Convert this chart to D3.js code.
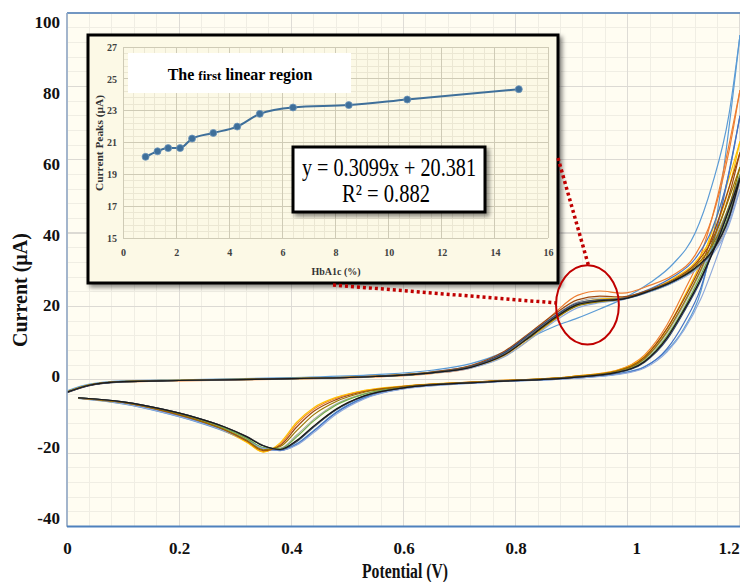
<!DOCTYPE html>
<html>
<head>
<meta charset="utf-8">
<script src="https://cdn.jsdelivr.net/npm/d3@7"></script>
<style>
  body { margin: 0; background: #fff; }
  svg { display: block; font-family: "Liberation Serif", "Times New Roman", serif; }
</style>
</head>
<body>
<div id="chart"></div>
<script>
// potentials (V) for the forward branch and the return branch (ascending)
const fwdV = [0, 0.04, 0.1, 0.2, 0.4, 0.55, 0.65, 0.72, 0.78, 0.83, 0.87, 0.91, 0.95, 0.99, 1.04, 1.08, 1.12, 1.15, 1.18, 1.2]
const revV = [0.02, 0.1, 0.17, 0.23, 0.28, 0.32, 0.35, 0.38, 0.41, 0.44, 0.48, 0.53, 0.6, 0.75, 0.9, 0.98, 1.03, 1.07, 1.1, 1.13, 1.16, 1.2]

const seriesColors = ["#5b9bd5", "#ed7d31", "#a5a5a5", "#ffc000", "#4472c4", "#70ad47",
                      "#8faadc", "#9e480e", "#997300", "#264478", "#636363", "#1a1a1a"]

// current (uA) of each voltammogram, forward branch
const fwdI = [
  [-3.0, -1.2, -0.3, 0.0, 0.6, 1.4, 2.6, 4.4, 7.6, 11.8, 14.6, 16.8, 19.3, 22.0, 26.5, 31.5, 40.0, 53.0, 72.0, 94.0],
  [-3.5, -1.6, -0.6, -0.3, 0.2, 0.8, 1.7, 3.2, 6.6, 12.6, 18.3, 23.0, 24.2, 23.6, 25.8, 28.5, 34.0, 44.0, 62.0, 79.0],
  [-3.4, -1.5, -0.5, -0.2, 0.3, 0.9, 1.9, 3.6, 7.3, 13.0, 17.6, 21.2, 22.3, 22.2, 24.2, 26.6, 30.0, 34.5, 43.0, 54.0],
  [-3.3, -1.4, -0.5, -0.2, 0.3, 0.9, 1.8, 3.3, 6.4, 11.6, 16.4, 20.6, 22.0, 22.4, 24.6, 27.5, 32.0, 39.0, 52.0, 65.0],
  [-3.4, -1.5, -0.5, -0.2, 0.3, 1.0, 2.1, 3.8, 7.3, 12.4, 16.8, 20.4, 21.6, 22.3, 24.8, 28.0, 33.0, 41.0, 56.0, 72.0],
  [-3.4, -1.5, -0.5, -0.2, 0.3, 0.9, 1.9, 3.5, 7.0, 12.4, 16.9, 20.2, 21.2, 21.9, 24.1, 26.5, 30.2, 35.0, 45.0, 56.0],
  [-3.4, -1.5, -0.5, -0.2, 0.3, 0.9, 1.8, 3.2, 6.3, 11.5, 16.0, 19.6, 21.0, 21.8, 24.0, 26.4, 29.8, 34.0, 42.0, 52.0],
  [-3.4, -1.5, -0.5, -0.2, 0.3, 1.0, 2.1, 3.9, 7.8, 13.4, 18.0, 21.8, 22.8, 22.6, 24.6, 27.2, 31.5, 38.0, 50.0, 62.0],
  [-3.3, -1.4, -0.4, -0.1, 0.4, 1.0, 2.0, 3.6, 6.9, 12.1, 16.6, 20.1, 21.3, 22.0, 24.4, 27.0, 31.0, 36.5, 47.0, 58.0],
  [-3.5, -1.6, -0.6, -0.2, 0.3, 0.9, 1.9, 3.6, 7.4, 13.0, 17.4, 20.9, 21.8, 22.0, 24.2, 26.7, 30.3, 34.8, 44.0, 55.0],
  [-3.4, -1.5, -0.5, -0.2, 0.3, 0.9, 1.9, 3.5, 7.0, 12.6, 17.1, 20.7, 21.7, 22.1, 24.3, 26.8, 30.4, 35.0, 44.5, 55.5],
  [-3.4, -1.5, -0.5, -0.2, 0.3, 0.9, 1.9, 3.4, 6.8, 12.3, 16.9, 20.5, 21.5, 22.0, 24.3, 26.8, 30.5, 35.0, 44.0, 55.0]
]

// current (uA) of each voltammogram, return branch
const revI = [
  [-5.1, -6.6, -8.9, -11.4, -14.0, -16.6, -18.8, -19.2, -17.4, -13.8, -8.8, -4.8, -2.3, -0.6, 0.5, 1.6, 3.6, 8.0, 14.0, 24.0, 46.0, 94.0],
  [-5.0, -6.3, -8.5, -11.0, -13.8, -16.8, -19.6, -17.6, -12.0, -8.0, -5.0, -3.0, -1.8, -0.4, 0.9, 2.6, 6.8, 15.0, 24.0, 34.0, 50.0, 79.0],
  [-4.9, -6.1, -8.2, -10.6, -13.2, -16.0, -18.6, -18.6, -15.0, -10.8, -6.6, -3.8, -2.0, -0.5, 0.7, 2.2, 5.6, 12.8, 20.5, 29.5, 40.0, 54.0],
  [-5.0, -6.4, -8.6, -11.1, -13.9, -17.0, -19.7, -17.2, -11.5, -7.6, -4.8, -2.9, -1.7, -0.4, 0.9, 2.5, 6.4, 14.0, 22.5, 32.0, 45.0, 65.0],
  [-5.0, -6.4, -8.7, -11.2, -13.8, -16.4, -18.6, -19.3, -17.6, -14.0, -9.0, -5.0, -2.4, -0.7, 0.4, 1.5, 3.5, 8.5, 15.5, 25.0, 42.0, 72.0],
  [-4.9, -6.1, -8.1, -10.5, -13.1, -15.9, -18.5, -18.8, -15.5, -11.2, -6.9, -3.9, -2.0, -0.5, 0.7, 2.1, 5.2, 12.0, 19.5, 28.5, 39.0, 56.0],
  [-5.0, -6.5, -8.8, -11.3, -13.9, -16.5, -18.7, -19.2, -17.8, -14.4, -9.4, -5.2, -2.5, -0.7, 0.4, 1.4, 3.2, 7.6, 13.5, 22.0, 34.0, 52.0],
  [-5.0, -6.2, -8.4, -10.9, -13.6, -16.6, -19.3, -17.9, -12.8, -8.6, -5.4, -3.2, -1.8, -0.4, 0.8, 2.4, 6.2, 14.0, 22.0, 31.0, 43.0, 62.0],
  [-5.0, -6.2, -8.3, -10.8, -13.5, -16.4, -19.1, -18.2, -13.8, -9.5, -5.9, -3.4, -1.9, -0.5, 0.8, 2.3, 5.8, 13.2, 21.0, 30.0, 41.0, 58.0],
  [-4.9, -6.0, -8.0, -10.3, -12.8, -15.5, -18.0, -19.1, -16.8, -12.9, -8.2, -4.5, -2.2, -0.6, 0.6, 1.9, 4.8, 11.0, 18.5, 27.0, 38.0, 55.0],
  [-4.9, -6.0, -8.0, -10.3, -12.8, -15.4, -17.9, -19.0, -16.6, -12.7, -8.1, -4.4, -2.2, -0.6, 0.6, 2.0, 5.0, 11.4, 19.0, 27.6, 38.5, 55.5],
  [-4.9, -6.0, -8.0, -10.3, -12.8, -15.5, -18.0, -19.0, -16.5, -12.6, -8.0, -4.4, -2.2, -0.6, 0.6, 2.0, 5.0, 11.5, 19.0, 27.5, 38.0, 55.0]
]

const xTicks = [0, 0.2, 0.4, 0.6, 0.8, 1, 1.2]
const yTicks = [-40, -20, 0, 20, 40, 60, 80, 100]

// inset: peak current vs HbA1c
const hba1c = [0.85, 1.3, 1.7, 2.15, 2.6, 3.4, 4.3, 5.15, 6.4, 8.5, 10.7, 14.9]
const peakCurrent = [20.1, 20.45, 20.65, 20.65, 21.25, 21.6, 22.0, 22.8, 23.2, 23.35, 23.7, 24.35]
const insetXTicks = [0, 2, 4, 6, 8, 10, 12, 14, 16]
const insetYTicks = [15, 17, 19, 21, 23, 25, 27]

const W = 740, H = 582
const PLOT = { LEFT: 67, RIGHT: 740, TOP: 13, BOTTOM: 526.5 }
const AXIS_BLUE = "#4f81bd"
const RED = "#c00000"

const svg = d3.select("#chart").append("svg")
  .attr("width", W).attr("height", H)

const defs = svg.append("defs")
defs.append("clipPath").attr("id", "plotClip")
  .append("rect")
  .attr("x", PLOT.LEFT).attr("y", PLOT.TOP)
  .attr("width", PLOT.RIGHT - PLOT.LEFT).attr("height", PLOT.BOTTOM - PLOT.TOP)
defs.append("filter").attr("id", "shadow")
  .attr("x", "-5%").attr("y", "-5%").attr("width", "115%").attr("height", "115%")
  .append("feDropShadow")
  .attr("dx", 3).attr("dy", 3).attr("stdDeviation", 2)
  .attr("flood-color", "#000").attr("flood-opacity", 0.45)

const x = d3.scaleLinear().domain([0, 1.2]).range([PLOT.LEFT, PLOT.RIGHT])
const y = d3.scaleLinear().domain([-40, 100]).range([PLOT.BOTTOM, PLOT.TOP])
// tick labels in the figure sit on a slightly tighter spacing than the grid
const yLab = d3.scaleLinear().domain([-40, 100]).range([518, 22])

// plot background
svg.append("rect")
  .attr("x", PLOT.LEFT).attr("y", PLOT.TOP)
  .attr("width", PLOT.RIGHT - PLOT.LEFT).attr("height", PLOT.BOTTOM - PLOT.TOP)
  .attr("fill", "#fffdf2")

// grid
const grid = svg.append("g").attr("shape-rendering", "crispEdges")
grid.selectAll(".vminor").data(d3.range(0, 1.2001, 0.04)).join("line")
  .attr("x1", d => x(d)).attr("x2", d => x(d))
  .attr("y1", PLOT.TOP).attr("y2", PLOT.BOTTOM)
  .attr("stroke", "#f0eee4").attr("stroke-width", 1)
grid.selectAll(".hminor").data(d3.range(-40, 100.001, 4)).join("line")
  .attr("y1", d => y(d)).attr("y2", d => y(d))
  .attr("x1", PLOT.LEFT).attr("x2", PLOT.RIGHT)
  .attr("stroke", "#f0eee4").attr("stroke-width", 1)
grid.selectAll(".vmajor").data(xTicks).join("line")
  .attr("x1", d => x(d)).attr("x2", d => x(d))
  .attr("y1", PLOT.TOP).attr("y2", PLOT.BOTTOM)
  .attr("stroke", "#dedcd6").attr("stroke-width", 1.2)
grid.selectAll(".hmajor").data(yTicks).join("line")
  .attr("y1", d => y(d)).attr("y2", d => y(d))
  .attr("x1", PLOT.LEFT).attr("x2", PLOT.RIGHT)
  .attr("stroke", "#dcdad4").attr("stroke-width", 1.2)

// voltammograms
const line = d3.line()
  .x(d => x(d[0])).y(d => y(d[1]))
  .curve(d3.curveMonotoneX)

const curves = svg.append("g").attr("clip-path", "url(#plotClip)")
  .attr("fill", "none").attr("stroke-width", 1.2)
seriesColors.forEach((c, i) => {
  curves.append("path").attr("d", line(d3.zip(fwdV, fwdI[i]))).attr("stroke", c)
  curves.append("path").attr("d", line(d3.zip(revV, revI[i]))).attr("stroke", c)
})

// axis lines
svg.append("line")
  .attr("x1", PLOT.LEFT).attr("x2", PLOT.RIGHT).attr("y1", PLOT.TOP).attr("y2", PLOT.TOP)
  .attr("stroke", AXIS_BLUE).attr("stroke-width", 1.5)
svg.append("line")
  .attr("x1", PLOT.LEFT).attr("x2", PLOT.LEFT).attr("y1", PLOT.TOP).attr("y2", PLOT.BOTTOM)
  .attr("stroke", "#8fa9c9").attr("stroke-width", 1.5)
svg.append("line")
  .attr("x1", PLOT.LEFT).attr("x2", PLOT.RIGHT).attr("y1", PLOT.BOTTOM).attr("y2", PLOT.BOTTOM)
  .attr("stroke", AXIS_BLUE).attr("stroke-width", 2)

// tick labels (plain hyphen for negatives, as in the figure)
const yAxisG = svg.append("g").attr("transform", "translate(60,0)")
  .call(d3.axisLeft(yLab).tickValues(yTicks).tickSize(0).tickPadding(0).tickFormat(d => String(d)))
const xAxisG = svg.append("g").attr("transform", "translate(0,542)")
  .call(d3.axisBottom(x).tickValues(xTicks).tickSize(0).tickPadding(0).tickFormat(d => String(d)))
;[yAxisG, xAxisG].forEach(g => {
  g.select(".domain").remove()
  g.selectAll("text")
    .attr("font-family", '"Liberation Serif", serif')
    .attr("font-size", 17).attr("font-weight", "bold").attr("fill", "#111")
})
// the last label sits against the right edge of the figure
xAxisG.selectAll("text").filter(d => d === 1.2).attr("text-anchor", "end").attr("dx", "-0.05em")
xAxisG.selectAll("text").filter(d => d === 1).attr("dx", "0.5em")

svg.append("text")
  .attr("transform", "translate(27,290) rotate(-90)")
  .attr("text-anchor", "middle")
  .attr("font-size", 20).attr("font-weight", "bold").attr("fill", "#111")
  .text("Current (µA)")
svg.append("text")
  .attr("x", 405).attr("y", 578)
  .attr("text-anchor", "middle")
  .attr("font-size", 20).attr("font-weight", "bold").attr("fill", "#111")
  .attr("textLength", 86).attr("lengthAdjust", "spacingAndGlyphs")
  .text("Potential (V)")

// ---- inset ----
const BOX = { x: 88, y: 35, w: 470, h: 248 }
const inset = svg.append("g")
inset.append("rect")
  .attr("x", BOX.x).attr("y", BOX.y).attr("width", BOX.w).attr("height", BOX.h)
  .attr("fill", "#fcf9e6").attr("stroke", "#000").attr("stroke-width", 3)
  .attr("filter", "url(#shadow)")

const ix = d3.scaleLinear().domain([0, 16]).range([123, 548])
const iy = d3.scaleLinear().domain([15, 27]).range([238, 47])

const igrid = inset.append("g").attr("shape-rendering", "crispEdges")
igrid.selectAll(".iv").data(d3.range(0, 16.001, 0.4)).join("line")
  .attr("x1", d => ix(d)).attr("x2", d => ix(d)).attr("y1", iy(27)).attr("y2", iy(15))
  .attr("stroke", "#ebe7d3")
igrid.selectAll(".ih").data(d3.range(15, 27.001, 0.4)).join("line")
  .attr("y1", d => iy(d)).attr("y2", d => iy(d)).attr("x1", ix(0)).attr("x2", ix(16))
  .attr("stroke", "#ebe7d3")
igrid.selectAll(".ivm").data(insetXTicks).join("line")
  .attr("x1", d => ix(d)).attr("x2", d => ix(d)).attr("y1", iy(27)).attr("y2", iy(15))
  .attr("stroke", "#cfcbb6")
igrid.selectAll(".ihm").data(insetYTicks).join("line")
  .attr("y1", d => iy(d)).attr("y2", d => iy(d)).attr("x1", ix(0)).attr("x2", ix(16))
  .attr("stroke", "#cfcbb6")

const iyAxis = inset.append("g").attr("transform", "translate(117,0)")
  .call(d3.axisLeft(iy).tickValues(insetYTicks).tickSize(0).tickPadding(0))
const ixAxis = inset.append("g").attr("transform", "translate(0,249)")
  .call(d3.axisBottom(ix).tickValues(insetXTicks).tickSize(0).tickPadding(0))
;[iyAxis, ixAxis].forEach(g => {
  g.select(".domain").remove()
  g.selectAll("text")
    .attr("font-family", '"Liberation Serif", serif')
    .attr("font-size", 10).attr("font-weight", "bold").attr("fill", "#404040")
})

inset.append("text")
  .attr("transform", "translate(103,143) rotate(-90)")
  .attr("text-anchor", "middle")
  .attr("font-size", 10).attr("font-weight", "bold").attr("fill", "#333")
  .attr("textLength", 96).attr("lengthAdjust", "spacingAndGlyphs")
  .text("Current Peaks (µA)")
inset.append("text")
  .attr("x", 336).attr("y", 275)
  .attr("text-anchor", "middle")
  .attr("font-size", 10).attr("font-weight", "bold").attr("fill", "#333")
  .text("HbA1c (%)")

const iline = d3.line().x(d => ix(d[0])).y(d => iy(d[1])).curve(d3.curveMonotoneX)
const ipts = d3.zip(hba1c, peakCurrent)
inset.append("path").attr("d", iline(ipts))
  .attr("fill", "none").attr("stroke", "#3e6f9a").attr("stroke-width", 2)
inset.selectAll(".pt").data(ipts).join("circle")
  .attr("cx", d => ix(d[0])).attr("cy", d => iy(d[1])).attr("r", 3.5)
  .attr("fill", "#3e6f9a").attr("stroke", "#6d95bb").attr("stroke-width", 0.8)

// title box
inset.append("rect")
  .attr("x", 128).attr("y", 53).attr("width", 223).attr("height", 40)
  .attr("fill", "#fff")
const title = inset.append("text")
  .attr("x", 240).attr("y", 80).attr("text-anchor", "middle")
  .attr("font-weight", "bold").attr("fill", "#000").attr("font-size", 16)
title.append("tspan").text("The ")
title.append("tspan").attr("font-size", 13).text("first")
title.append("tspan").text(" linear region")

// equation box
inset.append("rect")
  .attr("x", 293).attr("y", 147).attr("width", 192).attr("height", 65)
  .attr("fill", "#fff").attr("stroke", "#000").attr("stroke-width", 3)
  .attr("filter", "url(#shadow)")
inset.append("text")
  .attr("x", 389).attr("y", 176).attr("text-anchor", "middle")
  .attr("font-size", 25).attr("fill", "#000")
  .attr("textLength", 174).attr("lengthAdjust", "spacingAndGlyphs")
  .text("y = 0.3099x + 20.381")
inset.append("text")
  .attr("x", 386).attr("y", 202).attr("text-anchor", "middle")
  .attr("font-size", 25).attr("fill", "#000")
  .attr("textLength", 88).attr("lengthAdjust", "spacingAndGlyphs")
  .text("R² = 0.882")

// ---- annotation: circled peak region + dotted leaders ----
const ell = { v: 0.928, i: 20.4, dv: 0.056, di: 10.8 }
const ecx = x(ell.v), ecy = y(ell.i)
const erx = x(ell.v + ell.dv) - ecx, ery = y(ell.i - ell.di) - ecy

svg.append("ellipse")
  .attr("cx", ecx).attr("cy", ecy).attr("rx", erx).attr("ry", ery)
  .attr("fill", "none").attr("stroke", RED).attr("stroke-width", 2)

const leaders = [
  [[BOX.x + BOX.w, BOX.y + 123], [ecx + 1, ecy - ery]],
  [[BOX.x + 245, BOX.y + BOX.h + 2], [ecx - erx, ecy - 2]]
]
svg.selectAll(".leader").data(leaders).join("line")
  .attr("x1", d => d[0][0]).attr("y1", d => d[0][1])
  .attr("x2", d => d[1][0]).attr("y2", d => d[1][1])
  .attr("stroke", RED).attr("stroke-width", 3.5).attr("stroke-dasharray", "3 3")
</script>
</body>
</html>
